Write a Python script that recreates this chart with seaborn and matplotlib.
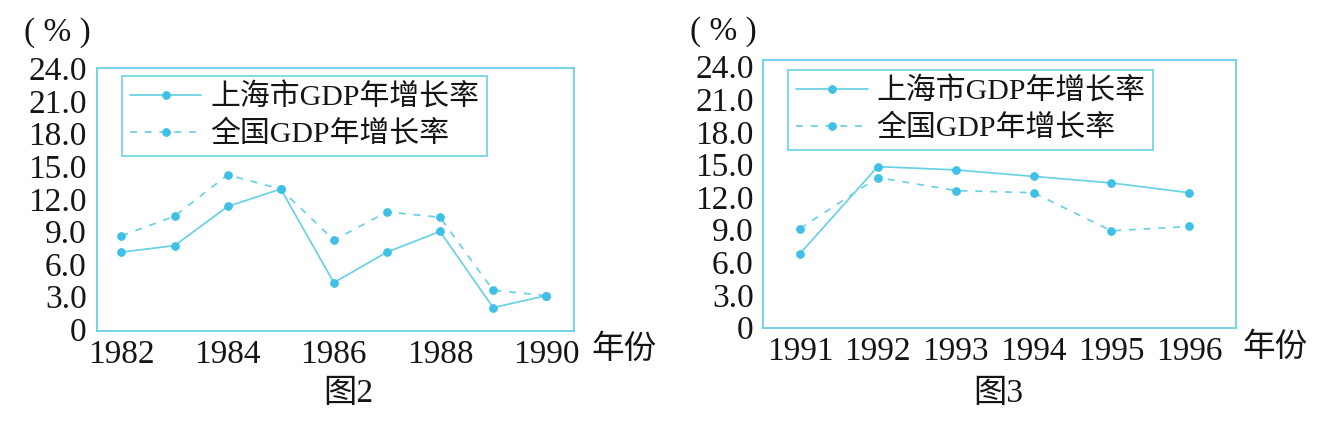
import pandas as pd
import matplotlib.pyplot as plt
import seaborn as sns

# values
years_82 = [1982, 1983, 1984, 1985, 1986, 1987, 1988, 1989, 1990]
shanghai_82 = [7.1, 7.7, 11.3, 12.9, 4.3, 7.1, 9.0, 2.0, 3.1]
china_82 = [8.6, 10.4, 14.2, 12.9, 8.2, 10.8, 10.3, 3.6, 3.1]

years_91 = [1991, 1992, 1993, 1994, 1995, 1996]
shanghai_91 = [6.8, 14.8, 14.5, 13.9, 13.3, 12.4]
china_91 = [9.1, 13.8, 12.6, 12.4, 8.9, 9.3]

series = ['上海市GDP年增长率', '全国GDP年增长率']
y_ticks = [0, 3, 6, 9, 12, 15, 18, 21, 24]
y_labels = ['0', '3.0', '6.0', '9.0', '12.0', '15.0', '18.0', '21.0', '24.0']
xlabels_82 = [1982, 1984, 1986, 1988, 1990]
xlabels_91 = [1991, 1992, 1993, 1994, 1995, 1996]

cyan = '#68d2e5'
dot = '#3fc0e6'
ink = '#151515'

sns.set_style('white')
plt.rcParams['font.family'] = ['Liberation Serif', 'Noto Sans CJK SC', 'DejaVu Sans']


def panel(ax, years, sh, cn, xlabels, xlim, ylim, leg_anchor):
    df = pd.DataFrame({
        'year': years * 2,
        'rate': sh + cn,
        'series': [series[0]] * len(years) + [series[1]] * len(years),
    })
    sns.lineplot(data=df, x='year', y='rate', hue='series', style='series',
                 palette=[cyan, cyan], dashes={series[0]: '', series[1]: (4, 4.5)},
                 markers={series[0]: 'o', series[1]: 'o'}, markersize=5.5,
                 markerfacecolor=dot, markeredgecolor=dot, linewidth=1.25, ax=ax)
    ax.set_xlim(*xlim)
    ax.set_ylim(*ylim)
    ax.set_xlabel('')
    ax.set_ylabel('')
    ax.set_yticks(y_ticks)
    ax.set_yticklabels(y_labels)
    ax.set_xticks(xlabels)
    ax.set_xticklabels([str(v) for v in xlabels])
    ax.set_xticks([y + 0.5 for y in range(years[0], years[-1])], minor=True)
    ax.tick_params(axis='y', direction='in', length=4, width=1, color=cyan,
                   labelsize=24, labelcolor=ink, pad=7)
    ax.tick_params(axis='x', which='major', length=0, labelsize=24, labelcolor=ink, pad=6)
    ax.tick_params(axis='x', which='minor', direction='in', length=4, width=1, color=cyan)
    for s in ax.spines.values():
        s.set_color(cyan)
        s.set_linewidth(1.3)

    old = ax.get_legend()
    handles = old.legend_handles
    labels = [t.get_text() for t in old.texts]
    leg = ax.legend(handles, labels, loc='upper left', bbox_to_anchor=leg_anchor,
                    borderaxespad=0, fontsize=21.5, handlelength=2.4, handletextpad=0.3,
                    borderpad=0.25, labelspacing=0.3, frameon=True, fancybox=False,
                    framealpha=1, edgecolor=cyan)
    leg.get_frame().set_linewidth(1.2)
    for t in leg.get_texts():
        t.set_color(ink)


fig = plt.figure(figsize=(13.28, 4.44), dpi=100)
ax1 = fig.add_axes([0.0727, 0.2545, 0.3598, 0.5917])
ax2 = fig.add_axes([0.5748, 0.2620, 0.3559, 0.6029])

panel(ax1, years_82, shanghai_82, china_82, xlabels_82,
      (1981.53, 1990.53), (-0.15, 24), (0.054, 0.971))
panel(ax2, years_91, shanghai_91, china_91, xlabels_91,
      (1990.53, 1996.6), (0, 24.6), (0.053, 0.963))

fig.text(57 / 1328, 1 - 33 / 444, '( % )', fontsize=24, color=ink, ha='center', va='center')
fig.text(723 / 1328, 1 - 32 / 444, '( % )', fontsize=24, color=ink, ha='center', va='center')
fig.text(591 / 1328, 1 - 350 / 444, '年份', fontsize=23.5, color=ink, ha='left', va='center')
fig.text(1242 / 1328, 1 - 348 / 444, '年份', fontsize=23.5, color=ink, ha='left', va='center')
fig.text(348 / 1328, 1 - 394 / 444, '图2', fontsize=24, color=ink, ha='center', va='center')
fig.text(998 / 1328, 1 - 394 / 444, '图3', fontsize=24, color=ink, ha='center', va='center')

fig.savefig('out.png', dpi=100)
